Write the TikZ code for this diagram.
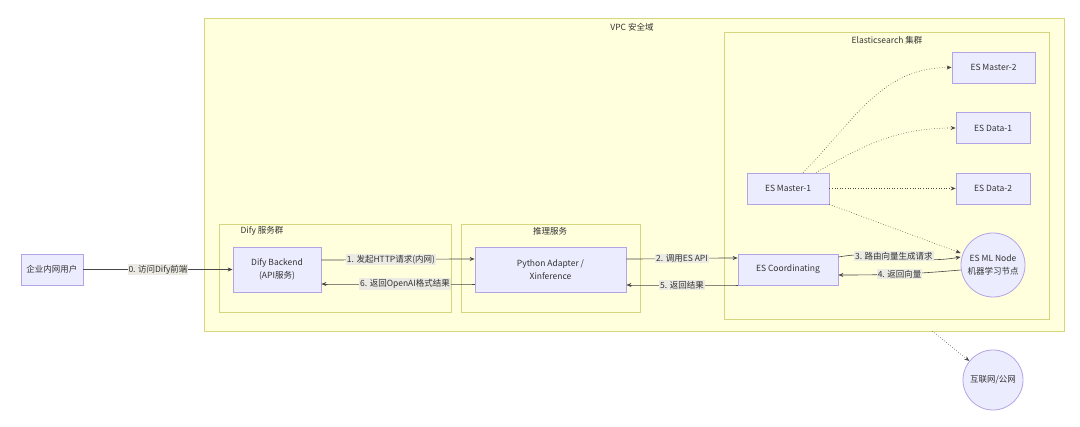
\documentclass[tikz,border=0pt]{standalone}
\usepackage{fontspec}
\setmainfont{Noto Sans CJK SC}
\usetikzlibrary{arrows.meta}
\definecolor{nodefill}{HTML}{ECECFF}
\definecolor{nodedraw}{HTML}{B3A4E6}
\definecolor{grpfill}{HTML}{FFFFDE}
\definecolor{grpdraw}{HTML}{D6D67E}
\definecolor{lblbg}{HTML}{EBEBE3}
\definecolor{txt}{HTML}{333333}
\begin{document}
\begin{tikzpicture}[x=1pt,y=-1pt,
  grp/.style={draw=grpdraw,fill=grpfill,line width=0.8pt},
  grplbl/.style={font=\fontsize{8.5}{10}\selectfont,text=txt},
  box/.style={draw=nodedraw,fill=nodefill,line width=0.8pt,inner sep=0pt,font=\fontsize{8.5}{13}\selectfont,text=txt,align=center},
  circ/.style={circle,draw=nodedraw,fill=nodefill,line width=0.8pt,inner sep=0pt,font=\fontsize{8.5}{13}\selectfont,text=txt,align=center},
  edge/.style={draw=txt!90,line width=0.6pt,-{Stealth[length=5pt,width=4pt]}},
  dot/.style={edge,dotted},
  lbl/.style={fill=lblbg,inner sep=1pt,font=\fontsize{8.5}{10}\selectfont,text=txt}]
\useasboundingbox (0,0) rectangle (1080,427);
% groups
\draw[grp] (204,18) rectangle (1064,331);
\node[grplbl] (vpcl) at (632,27) {VPC 安全域};
\draw[grp] (724,32) rectangle (1049,319);
\node[grplbl] (esl) at (887,40) {Elasticsearch 集群};
\draw[grp] (219,224) rectangle (451,312);
\node[grplbl] (difyl) at (262,231) {Dify 服务群};
\draw[grp] (461,224) rectangle (640,312);
\node[grplbl] (infl) at (550,231) {推理服务};
% nodes
\node[box,minimum width=62pt,minimum height=31pt] (user) at (52,269.5) {企业内网用户};
\node[box,minimum width=88pt,minimum height=45pt] (dify) at (277,269.5) {Dify Backend\\(API服务)};
\node[box,minimum width=151pt,minimum height=45pt] (py) at (550.5,269.5) {Python Adapter /\\Xinference};
\node[box,minimum width=100pt,minimum height=31pt] (coord) at (788,269.5) {ES Coordinating};
\node[circ,minimum size=64pt] (ml) at (993,265) {ES ML Node\\机器学习节点};
\node[box,minimum width=82pt,minimum height=31pt] (m1) at (788,188.5) {ES Master-1};
\node[box,minimum width=83pt,minimum height=31pt] (m2) at (993.5,67.5) {ES Master-2};
\node[box,minimum width=74pt,minimum height=31pt] (d1) at (993,128) {ES Data-1};
\node[box,minimum width=74pt,minimum height=31pt] (d2) at (993,188.5) {ES Data-2};
\node[circ,minimum size=60pt] (net) at (993,380) {互联网/公网};
\coordinate (vpcb) at (932,331);
% edges
\draw[edge] (user) -- node[lbl] {0. 访问Dify前端} (dify);
\draw[edge] (dify.east |- 0,260) to[out=0,in=180] node[lbl,pos=0.45] {1. 发起HTTP请求(内网)} (py.west |- 0,259);
\draw[edge] (py.west |- 0,284) to[out=180,in=0] node[lbl,pos=0.45] {6. 返回OpenAI格式结果} (dify.east |- 0,284);
\draw[edge] (py.east |- 0,259) to[out=0,in=180] node[lbl,pos=0.5] {2. 调用ES API} (coord.west |- 0,258);
\draw[edge] (coord.west |- 0,285) to[out=180,in=0] node[lbl,pos=0.5] {5. 返回结果} (py.east |- 0,285);
\draw[edge] (coord.east |- 0,257) to[out=10,in=190] node[lbl,pos=0.45] {3. 路由向量生成请求} (ml.west |- 0,257);
\draw[edge] (ml.west |- 0,270) to[out=185,in=0] node[lbl,pos=0.5] {4. 返回向量} (coord.east |- 0,275);
\draw[dot] (m1.north -| 803,0) to[out=45,in=180] (m2.west);
\draw[dot] (m1.north -| 816,0) to[out=30,in=180] (d1.west);
\draw[dot] (m1) -- (d2);
\draw[dot] (m1.south east) -- (ml.west |- 0,253);
\draw[dot] (vpcb) -- (net);
\end{tikzpicture}
\end{document}
